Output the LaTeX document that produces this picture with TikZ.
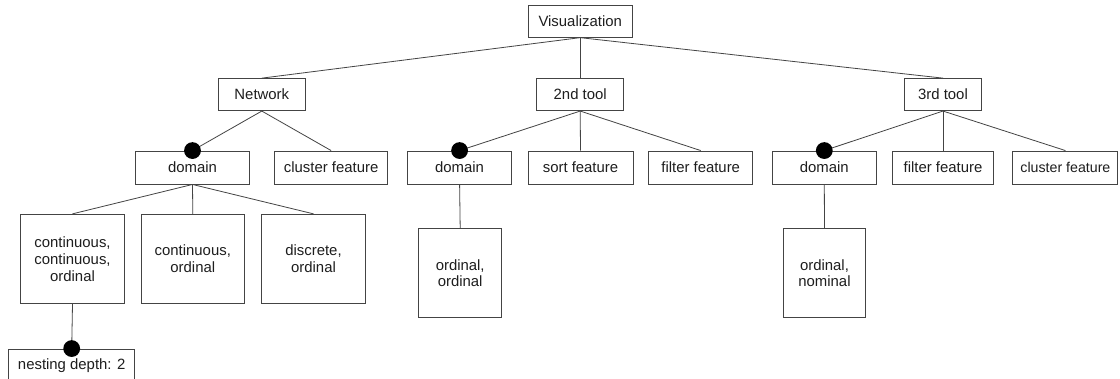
\documentclass[tikz,border=0pt]{standalone}
\usepackage{fontspec}
\setmainfont{Liberation Sans}
\definecolor{edge}{HTML}{444444}
\definecolor{ink}{HTML}{1E1E1E}
\begin{document}
\begin{tikzpicture}[x=1pt,y=-1pt,
  box/.style={draw=edge,line width=0.9pt,rectangle,inner sep=0pt,align=center,
    text=ink,font=\fontsize{14.9}{16.7}\selectfont,minimum height=32pt},
  small/.style={font=\fontsize{14.2}{16}\selectfont},
  link/.style={draw=edge,line width=0.8pt},
  dot/.style={fill=black,circle,inner sep=0pt,minimum size=16.8pt}]
\clip (0,0) rectangle (1120,378);
\fill[white] (0,0) rectangle (1120,378);

% root and tools
\node[box,minimum width=104.5pt] (vis) at (580.2,21.2) {Visualization};
\node[box,minimum width=87.2pt]  (net) at (261.8,94.6) {Network};
\node[box,minimum width=86.8pt]  (t2)  at (580.2,94.6) {2nd tool};
\node[box,minimum width=77.8pt]  (t3)  at (943,94.6)   {3rd tool};

% feature row
\node[box,minimum width=113.6pt,minimum height=33pt] (dom1) at (192.5,167.5) {domain};
\node[box,minimum width=113.6pt,minimum height=33pt] (clu1) at (331.1,167.5) {cluster feature};
\node[box,minimum width=103.5pt,minimum height=33pt] (dom2) at (459.6,167.5) {domain};
\node[box,minimum width=105pt,minimum height=33pt]   (sort) at (580.5,167.5) {sort feature};
\node[box,minimum width=104.3pt,minimum height=33pt] (fil2) at (700.7,167.5) {filter feature};
\node[box,minimum width=103.5pt,minimum height=33pt] (dom3) at (824.3,167.5) {domain};
\node[box,minimum width=101.8pt,minimum height=33pt] (fil3) at (943,167.5)   {filter feature};
\node[box,small,minimum width=105pt,minimum height=33pt] (clu3) at (1065.4,167.5) {cluster feature};

% domain values
\node[box,minimum width=103.6pt,minimum height=89.4pt] (ccord) at (72.5,259) {continuous,\\continuous,\\ordinal};
\node[box,minimum width=103.7pt,minimum height=89.4pt] (cord)  at (192.8,259) {continuous,\\ordinal};
\node[box,minimum width=103.6pt,minimum height=89.4pt] (dord)  at (313.5,259) {discrete,\\ordinal};
\node[box,minimum width=82.6pt,minimum height=89.2pt]  (oord)  at (460.2,273.2) {ordinal,\\ordinal};
\node[box,minimum width=82.6pt,minimum height=89.2pt]  (onom)  at (824.5,273.2) {ordinal,\\nominal};
\node[box,minimum width=126pt,minimum height=33pt]     (nest)  at (71.7,365.5) {nesting depth: 2};

% tree links
\foreach \p/\c in {vis/net,vis/t2,vis/t3,
                   net/dom1,net/clu1,
                   t2/dom2,t2/sort,t2/fil2,
                   t3/dom3,t3/fil3,t3/clu3,
                   dom1/ccord,dom1/cord,dom1/dord,
                   dom2/oord,dom3/onom,ccord/nest}
  \draw[link] (\p.south) -- (\c.north);

% mandatory markers
\foreach \c in {dom1,dom2,dom3,nest}
  \node[dot] at (\c.north) {};
\end{tikzpicture}
\end{document}
